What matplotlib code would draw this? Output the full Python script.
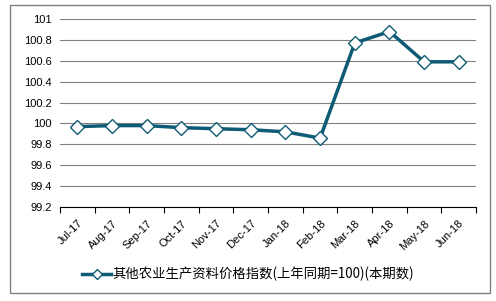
import matplotlib.pyplot as plt
from matplotlib.patches import Rectangle

plt.rcParams['font.family'] = ['Noto Sans CJK SC', 'DejaVu Sans']

# data
months = ["Jul-17", "Aug-17", "Sep-17", "Oct-17", "Nov-17", "Dec-17",
          "Jan-18", "Feb-18", "Mar-18", "Apr-18", "May-18", "Jun-18"]
index_values = [99.97, 99.98, 99.98, 99.96, 99.95, 99.94,
                99.92, 99.86, 100.77, 100.88, 100.59, 100.59]
series_name = "其他农业生产资料价格指数(上年同期=100)(本期数)"
y_ticks = [99.2, 99.4, 99.6, 99.8, 100, 100.2, 100.4, 100.6, 100.8, 101]

fig = plt.figure(figsize=(4.96, 3.01), dpi=100)
ax = fig.add_axes([0.121, 0.312, 0.839, 0.625])

x = list(range(len(months)))
line, = ax.plot(x, index_values, color="#0d5b74", linewidth=2.5,
                marker="D", markersize=7, markerfacecolor="white",
                markeredgecolor="#0d5b74", markeredgewidth=1, label=series_name)

ax.set_xlim(-0.5, len(months) - 0.5)
ax.set_ylim(99.2, 101)
ax.set_yticks(y_ticks)
ax.set_yticklabels([f"{v:g}" for v in y_ticks], fontsize=8, family="Liberation Sans")
ax.yaxis.grid(True, color="#808080", linewidth=0.8)
ax.set_axisbelow(True)

ax.set_xticks([i - 0.5 for i in range(len(months) + 1)])
ax.set_xticklabels([])
ax.set_xticks(x, minor=True)
ax.set_xticklabels(months, minor=True, rotation=45, ha="right",
                   rotation_mode="anchor", fontsize=8, family="Liberation Sans")
ax.tick_params(axis="x", which="major", length=4, color="black", direction="out")
ax.tick_params(axis="x", which="minor", length=0, pad=8)
ax.tick_params(axis="y", length=0, pad=6)

for s in ["top", "right", "left"]:
    ax.spines[s].set_visible(False)
ax.spines["bottom"].set_color("black")

fig.legend(handles=[line], loc="center", bbox_to_anchor=(0.5, 0.09),
           frameon=False, fontsize=9.6, handlelength=2.2, handletextpad=0.1,
           markerscale=0.7)

fig.patches.append(Rectangle((0.02, 0.027), 0.968, 0.957, transform=fig.transFigure,
                             fill=False, edgecolor="#808080", linewidth=1))

fig.savefig("out.png", dpi=100)
